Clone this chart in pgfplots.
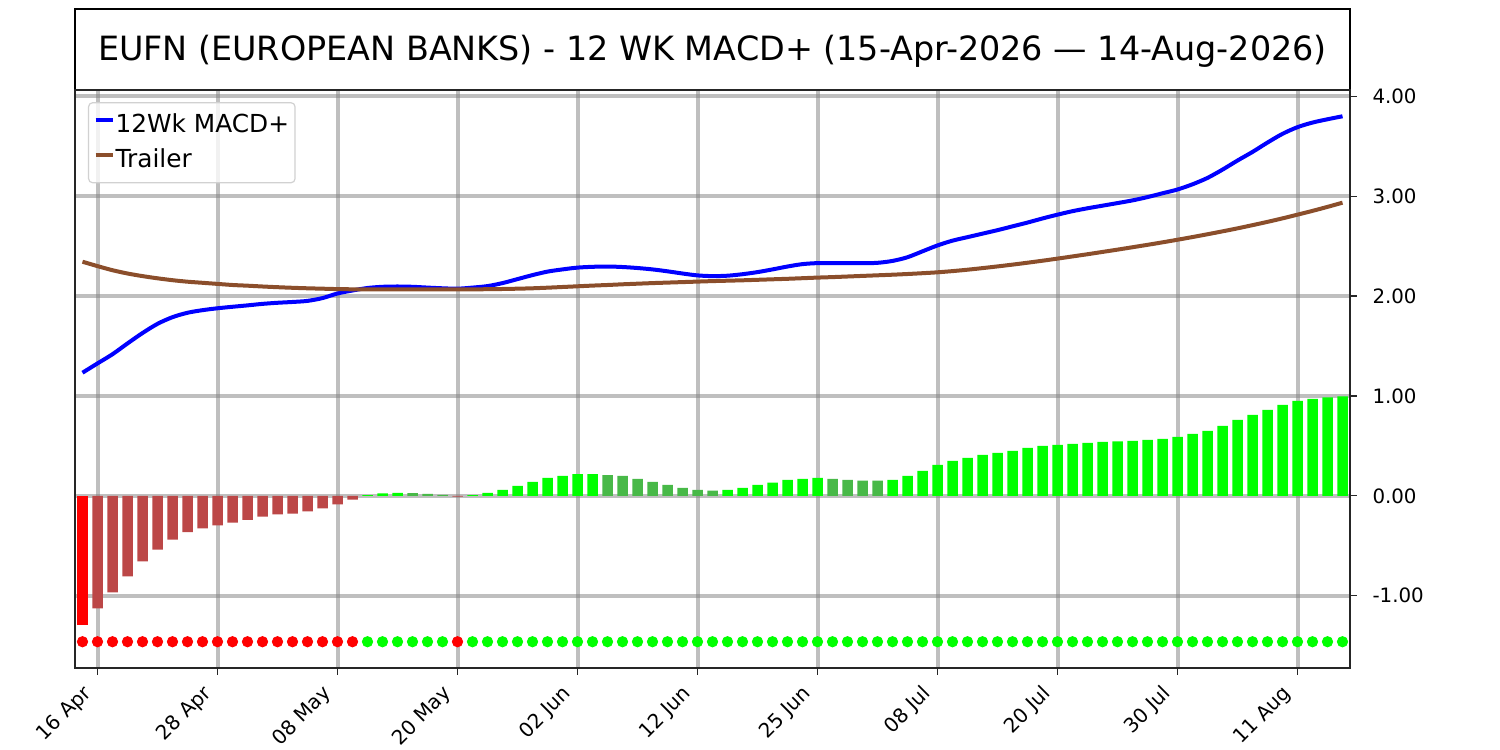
\documentclass[border=0pt]{standalone}
\usepackage{fontspec}
\setmainfont{DejaVu Sans}
\usepackage{pgfplots}
\pgfplotsset{compat=1.18}
\usepackage{pgfplotstable}

\definecolor{brtred}{RGB}{255,0,0}
\definecolor{dkred}{RGB}{188,71,71}
\definecolor{brtgreen}{RGB}{0,255,0}
\definecolor{dkgreen}{RGB}{72,185,72}
\definecolor{trail}{RGB}{139,78,43}

\pgfplotstableread{
idx macd trail
0 1.233 2.344
1 1.326 2.300
2 1.418 2.259
3 1.526 2.226
4 1.630 2.200
5 1.722 2.178
6 1.789 2.159
7 1.833 2.144
8 1.859 2.133
9 1.878 2.122
10 1.893 2.111
11 1.907 2.104
12 1.922 2.096
13 1.933 2.089
14 1.941 2.083
15 1.952 2.078
16 1.980 2.074
17 2.026 2.070
18 2.056 2.068
19 2.081 2.067
20 2.093 2.066
21 2.096 2.066
22 2.093 2.066
23 2.085 2.066
24 2.078 2.066
25 2.074 2.066
26 2.085 2.067
27 2.100 2.069
28 2.130 2.071
29 2.170 2.074
30 2.210 2.078
31 2.245 2.084
32 2.267 2.091
33 2.285 2.098
34 2.293 2.105
35 2.296 2.111
36 2.291 2.118
37 2.281 2.124
38 2.267 2.130
39 2.248 2.135
40 2.226 2.140
41 2.207 2.145
42 2.200 2.150
43 2.204 2.154
44 2.219 2.158
45 2.240 2.163
46 2.267 2.168
47 2.296 2.173
48 2.320 2.179
49 2.330 2.185
50 2.331 2.190
51 2.329 2.196
52 2.329 2.202
53 2.333 2.208
54 2.352 2.214
55 2.389 2.221
56 2.448 2.229
57 2.507 2.238
58 2.555 2.250
59 2.590 2.264
60 2.625 2.280
61 2.660 2.297
62 2.698 2.315
63 2.736 2.334
64 2.777 2.354
65 2.815 2.375
66 2.850 2.397
67 2.879 2.419
68 2.905 2.442
69 2.931 2.465
70 2.958 2.489
71 2.991 2.513
72 3.029 2.538
73 3.067 2.564
74 3.119 2.591
75 3.183 2.619
76 3.266 2.648
77 3.357 2.678
78 3.443 2.710
79 3.537 2.743
80 3.624 2.778
81 3.691 2.815
82 3.737 2.853
83 3.770 2.893
84 3.800 2.935
}\lines

\begin{document}
\begin{tikzpicture}
\path (0pt,0pt) rectangle (750pt,375pt);
\draw[line width=0.7pt, fill=white] (37.5pt,330pt) rectangle (675pt,370.5pt);
\node[anchor=base, inner sep=0pt, font=\fontsize{16.7}{20}\selectfont] at (356.25pt,344.5pt)
  {EUFN (EUROPEAN BANKS) - 12 WK MACD+ (15-Apr-2026 — 14-Aug-2026)};
\begin{axis}[
  at={(37.5pt,41pt)}, anchor=south west,
  scale only axis, width=637.5pt, height=289pt,
  xmin=-0.5, xmax=84.5, ymin=-1.723, ymax=4.063,
  xtick={1,9,17,25,33,41,49,57,65,73,81},
  xticklabels={16 Apr,28 Apr,08 May,20 May,02 Jun,12 Jun,25 Jun,08 Jul,20 Jul,30 Jul,11 Aug},
  ytick={-1,0,1,2,3,4},
  yticklabels={-1.00,0.00,1.00,2.00,3.00,4.00},
  xtick pos=bottom, ytick pos=right, yticklabel pos=right,
  tick align=outside, major tick length=3.25pt,
  tick style={line width=0.6pt, black!85},
  axis line style={line width=0.7pt, black!85},
  tick label style={font=\fontsize{10}{12}\selectfont},
  xticklabel style={font=\fontsize{10}{12}\selectfont, xshift=-4.5pt, yshift=-8pt,
    rotate=45, anchor=east, inner sep=0pt, text height=7.6pt, text depth=2.4pt},
  yticklabel style={font=\fontsize{9.9}{12}\selectfont, anchor=west, inner sep=1pt, xshift=6.8pt},
  grid=major,
  major grid style={line width=2pt, draw=gray, opacity=0.5},
  legend style={at={(0.0102,0.979)}, anchor=north west, draw=black!18, line width=0.6pt,
    rounded corners=2pt, fill=white, fill opacity=0.8, text opacity=1,
    font=\fontsize{12.4}{15}\selectfont, inner xsep=2.5pt, inner ysep=4.5pt,
    row sep=4pt, nodes={inner sep=0.5pt, text height=10pt, text depth=2.5pt}},
  legend cell align=left,
  legend image code/.code={\draw[#1, line width=2pt] (0pt,2.5pt) -- (8.5pt,2.5pt);},
]
% bars
\addplot[ybar, bar width=0.7, bar shift=0pt, fill=brtred, draw=none, forget plot]
  coordinates {(0,-1.289)};
\addplot[ybar, bar width=0.7, bar shift=0pt, fill=dkred, draw=none, forget plot]
  coordinates {(1,-1.126) (2,-0.967) (3,-0.807) (4,-0.656) (5,-0.537) (6,-0.437) (7,-0.363)
  (8,-0.326) (9,-0.296) (10,-0.267) (11,-0.241) (12,-0.207) (13,-0.185) (14,-0.178)
  (15,-0.156) (16,-0.126) (17,-0.085) (18,-0.037) (25,-0.008)};
\addplot[ybar, bar width=0.7, bar shift=0pt, fill=brtgreen, draw=none, forget plot]
  coordinates {(19,0.007) (20,0.025) (21,0.030) (26,0.007) (27,0.030) (28,0.060) (29,0.100)
  (30,0.140) (31,0.180) (32,0.200) (33,0.218) (34,0.219) (43,0.060) (44,0.080) (45,0.110)
  (46,0.133) (47,0.160) (48,0.170) (49,0.180) (54,0.160) (55,0.200) (56,0.250) (57,0.310)
  (58,0.350) (59,0.380) (60,0.410) (61,0.430) (62,0.450) (63,0.480) (64,0.500) (65,0.510)
  (66,0.520) (67,0.530) (68,0.540) (69,0.545) (70,0.550) (71,0.560) (72,0.570) (73,0.590)
  (74,0.620) (75,0.650) (76,0.700) (77,0.760) (78,0.810) (79,0.860) (80,0.910) (81,0.950)
  (82,0.970) (83,0.985) (84,0.997)};
\addplot[ybar, bar width=0.7, bar shift=0pt, fill=dkgreen, draw=none, forget plot]
  coordinates {(22,0.028) (23,0.020) (24,0.010) (35,0.207) (36,0.200) (37,0.170) (38,0.140)
  (39,0.110) (40,0.080) (41,0.060) (42,0.052) (50,0.170) (51,0.160) (52,0.152) (53,0.152)};
% lines
\addplot[blue, line width=2pt, smooth] table[x=idx, y=macd] {\lines};
\addlegendentry{12Wk MACD+\hspace{3.5pt}}
\addplot[trail, line width=2pt, smooth] table[x=idx, y=trail] {\lines};
\addlegendentry{Trailer}
% dots
\addplot[brtred, only marks, mark=*, mark size=2.6pt, forget plot]
  coordinates {(0,-1.46) (1,-1.46) (2,-1.46) (3,-1.46) (4,-1.46) (5,-1.46) (6,-1.46) (7,-1.46)
  (8,-1.46) (9,-1.46) (10,-1.46) (11,-1.46) (12,-1.46) (13,-1.46) (14,-1.46) (15,-1.46)
  (16,-1.46) (17,-1.46) (18,-1.46) (25,-1.46)};
\addplot[brtgreen, only marks, mark=*, mark size=2.6pt, forget plot]
  coordinates {(19,-1.46) (20,-1.46) (21,-1.46) (22,-1.46) (23,-1.46) (24,-1.46)
  (26,-1.46) (27,-1.46) (28,-1.46) (29,-1.46) (30,-1.46) (31,-1.46) (32,-1.46) (33,-1.46)
  (34,-1.46) (35,-1.46) (36,-1.46) (37,-1.46) (38,-1.46) (39,-1.46) (40,-1.46) (41,-1.46)
  (42,-1.46) (43,-1.46) (44,-1.46) (45,-1.46) (46,-1.46) (47,-1.46) (48,-1.46) (49,-1.46)
  (50,-1.46) (51,-1.46) (52,-1.46) (53,-1.46) (54,-1.46) (55,-1.46) (56,-1.46) (57,-1.46)
  (58,-1.46) (59,-1.46) (60,-1.46) (61,-1.46) (62,-1.46) (63,-1.46) (64,-1.46) (65,-1.46)
  (66,-1.46) (67,-1.46) (68,-1.46) (69,-1.46) (70,-1.46) (71,-1.46) (72,-1.46) (73,-1.46)
  (74,-1.46) (75,-1.46) (76,-1.46) (77,-1.46) (78,-1.46) (79,-1.46) (80,-1.46) (81,-1.46)
  (82,-1.46) (83,-1.46) (84,-1.46)};
\end{axis}
\end{tikzpicture}
\end{document}
